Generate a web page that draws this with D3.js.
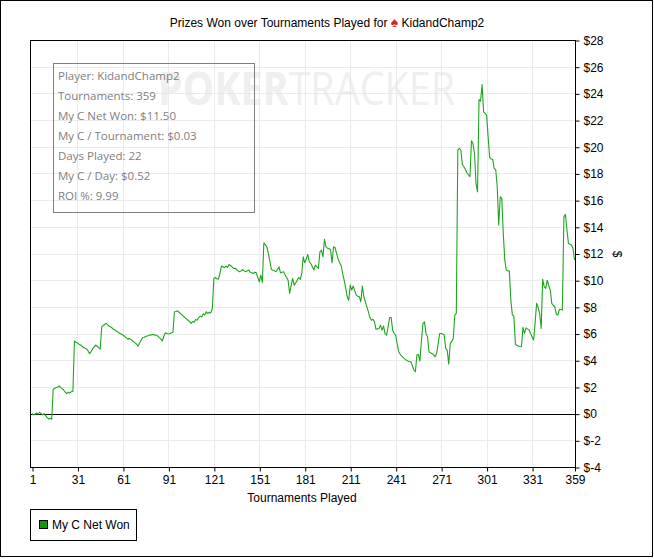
<!DOCTYPE html>
<html>
<head>
<meta charset="utf-8">
<script src="https://cdn.jsdelivr.net/npm/d3@7"></script>
<style>
  body { margin: 0; background: #fff; }
  svg text { font-family: "Liberation Sans", Arial, sans-serif; }
</style>
</head>
<body>
<div class="chart"></div>
<script>
// tournament index runs 1..359, one value per tournament (cumulative $ won)
const netWon = [
  0, -0.1, -0.05, 0.05, -0.05, 0.1, 0, -0.1, 0, -0.15,
  -0.3, -0.4, -0.35, -0.43, 1.82, 1.9, 1.95, 2.0, 2.07, 1.95,
  1.85, 1.75, 1.6, 1.5, 1.6, 1.55, 1.65, 1.67, 5.44, 5.35,
  5.3, 5.2, 5.15, 5.05, 4.95, 4.9, 4.85, 4.7, 4.5, 4.65,
  4.85, 5.0, 5.14, 5.05, 4.95, 4.84, 6.5, 6.6, 6.7, 6.76,
  6.65, 6.55, 6.5, 6.4, 6.3, 6.25, 6.15, 6.1, 6.0, 5.96,
  5.9, 5.8, 5.7, 5.6, 5.62, 5.58, 5.5, 5.4, 5.3, 5.2,
  5.06, 5.3, 5.5, 5.7, 5.72, 5.78, 5.82, 5.85, 5.9, 5.9,
  5.94, 5.9, 5.85, 5.82, 5.7, 5.6, 5.44, 5.8, 6.06, 6.0,
  5.96, 6.0, 6.05, 6.1, 7.63, 7.66, 7.7, 7.6, 7.5, 7.4,
  7.3, 7.2, 7.1, 7.0, 6.9, 6.76, 6.9, 6.85, 7.06, 7.0,
  7.2, 7.31, 7.25, 7.48, 7.4, 7.63, 7.5, 7.6, 7.55, 7.88,
  10.13, 10.2, 10.1, 10.08, 10.5, 11.06, 11.0, 10.94, 11.05, 10.95,
  11.18, 11.1, 11.0, 10.88, 10.9, 10.8, 10.7, 10.63, 10.7, 10.8,
  10.7, 10.63, 10.7, 10.75, 10.6, 10.55, 10.5, 10.6, 10.55, 10.2,
  9.88, 10.38, 9.83, 12.8, 12.65, 12.5, 12.0, 11.4, 10.8, 10.75,
  10.7, 10.63, 10.8, 11.0, 10.55, 10.6, 10.63, 10.4, 10.2, 10.0,
  9.01, 9.6, 10.13, 9.63, 9.8, 10.0, 10.2, 10.06, 10.5, 11.75,
  11.3, 11.6, 11.93, 11.38, 11.25, 11.0, 10.76, 11.13, 11.0, 10.88,
  12.13, 12.25, 11.75, 13.06, 12.5, 12.4, 12.35, 12.3, 11.3, 12.5,
  12.45, 12.0, 11.6, 11.3, 11.1, 10.5, 10.0, 9.4, 8.76, 8.5,
  9.63, 9.26, 9.56, 9.2, 8.88, 8.8, 8.76, 8.38, 9.56, 8.76,
  8.38, 8.0, 7.63, 7.2, 7.0, 7.07, 6.88, 6.32, 6.35, 6.38,
  6.63, 6.26, 6.56, 6.0, 5.88, 6.5, 7.2, 7.2, 6.26, 6.0,
  5.88, 5.2, 4.64, 4.45, 4.3, 4.2, 4.1, 4.01, 3.95, 3.9,
  3.89, 3.6, 3.27, 3.14, 4.39, 4.44, 3.94, 5.5, 6.76, 6.88,
  6.01, 5.76, 4.64, 4.55, 4.51, 4.4, 4.26, 4.51, 5.2, 6.0,
  6.0, 5.96, 5.9, 4.89, 4.76, 3.71, 5.26, 5.4, 5.63, 7.38,
  7.5, 19.75, 19.87, 19.75, 18.67, 18.5, 18.3, 18.05, 17.9, 17.75,
  20.44, 20.25, 19.5, 17.25, 16.62, 23.54, 23.42, 24.67, 22.62, 22.5,
  22.37, 20.75, 19.2, 19.1, 19.05, 18.37, 18.3, 17.0, 14.13, 16.25,
  16.13, 13.5, 11.5, 10.76, 10.7, 10.68, 8.5, 7.38, 7.3, 5.21,
  5.1, 5.06, 5.03, 5.01, 6.46, 6.01, 6.43, 6.35, 6.26, 6.0,
  5.76, 5.51, 6.8, 8.26, 7.96, 7.51, 6.39, 10.06, 9.51, 9.38,
  10.0, 9.6, 9.26, 8.26, 8.1, 8.01, 7.46, 7.38, 7.81, 7.8,
  7.76, 14.75, 14.93, 13.8, 12.76, 12.7, 12.64, 12.38, 11.5
];
const xTicks = [1, 31, 61, 91, 121, 151, 181, 211, 241, 271, 301, 331, 359];
const yTicks = [-4, -2, 0, 2, 4, 6, 8, 10, 12, 14, 16, 18, 20, 22, 24, 26, 28];
const infoLines = [
  "Player: KidandChamp2",
  "Tournaments: 359",
  "My C Net Won: $11.50",
  "My C / Tournament: $0.03",
  "Days Played: 22",
  "My C / Day: $0.52",
  "ROI %: 9.99"
];
const playerName = "KidandChamp2";
const seriesName = "My C Net Won";

const W = 654, H = 559;
const plot = { left: 30, right: 575, top: 40, bottom: 467 };

let svg = d3.select(".chart").append("svg")
  .attr("width", W)
  .attr("height", H);

// outer frame
svg.append("rect")
  .attr("x", 0.5).attr("y", 0.5)
  .attr("width", 652).attr("height", 556)
  .attr("fill", "#fff")
  .attr("stroke", "#000");

let x = d3.scaleLinear().domain([1, 359]).range([32, 574.5]);
let y = d3.scaleLinear().domain([-4, 28]).range([plot.bottom, plot.top]);

// grid
svg.append("g")
  .selectAll("line")
  .data(xTicks.slice(1, -1))
  .join("line")
  .attr("x1", d => Math.round(x(d)) + 0.5)
  .attr("x2", d => Math.round(x(d)) + 0.5)
  .attr("y1", plot.top)
  .attr("y2", plot.bottom)
  .attr("stroke", "#ebebeb");

svg.append("g")
  .selectAll("line")
  .data(yTicks.filter(d => d != -4 && d != 28 && d != 0))
  .join("line")
  .attr("x1", plot.left)
  .attr("x2", plot.right)
  .attr("y1", d => Math.round(y(d)) + 0.5)
  .attr("y2", d => Math.round(y(d)) + 0.5)
  .attr("stroke", "#ebebeb");

// watermark, faint, sits behind the info box like the original
let wm = svg.append("text")
  .attr("x", 158).attr("y", 105)
  .attr("textLength", 297).attr("lengthAdjust", "spacingAndGlyphs")
  .attr("fill", "#e6e6e6")
  .attr("opacity", 0.6)
  .style("font-family", "'Open Sans', sans-serif")
  .style("font-size", "46px");
wm.append("tspan").attr("font-weight", "bold").text("POKER");
wm.append("tspan").attr("font-weight", "normal").text("TRACKER");

// zero line
svg.append("line")
  .attr("x1", plot.left).attr("x2", plot.right)
  .attr("y1", Math.round(y(0)) + 0.5).attr("y2", Math.round(y(0)) + 0.5)
  .attr("stroke", "#000");

// series
let line = d3.line()
  .x((d, i) => x(i + 1))
  .y(d => y(d));

svg.append("path")
  .datum(netWon)
  .attr("fill", "none")
  .attr("stroke", "#1ea51e")
  .attr("stroke-width", 1.1)
  .attr("stroke-linejoin", "round")
  .attr("d", line);

// plot frame
svg.append("rect")
  .attr("x", plot.left + 0.5).attr("y", plot.top + 0.5)
  .attr("width", plot.right - plot.left).attr("height", plot.bottom - plot.top)
  .attr("fill", "none")
  .attr("stroke", "#000");

// axes
let yAxis = svg.append("g")
  .attr("transform", "translate(" + (plot.right + 0.5) + ",0.5)")
  .call(d3.axisRight(y).tickValues(yTicks).tickFormat(d => "$" + d).tickSize(4).tickPadding(4));
yAxis.select(".domain").remove();
yAxis.selectAll("text").attr("font-size", 12).attr("fill", "#000").style("font-family", "'Liberation Sans', Arial");

let xAxis = svg.append("g")
  .attr("transform", "translate(0.5," + (plot.bottom + 0.5) + ")")
  .call(d3.axisBottom(x).tickValues(xTicks).tickSize(4).tickPadding(4));
xAxis.select(".domain").remove();
xAxis.selectAll("text").attr("font-size", 12).attr("fill", "#000").style("font-family", "'Liberation Sans', Arial");

svg.append("text")
  .attr("x", 302).attr("y", 502)
  .attr("text-anchor", "middle")
  .attr("font-size", 12)
  .text("Tournaments Played");

svg.append("text")
  .attr("transform", "translate(613,254) rotate(90)")
  .attr("text-anchor", "middle")
  .attr("font-size", 12)
  .text("$");

// title
let title = svg.append("text")
  .attr("x", 327).attr("y", 27)
  .attr("text-anchor", "middle")
  .attr("font-size", 12);
title.append("tspan").text("Prizes Won over Tournaments Played for ");
title.append("tspan").attr("fill", "#d8231f").attr("font-size", 14).text("\u2660");
title.append("tspan").text(" " + playerName);

// info box
let info = svg.append("g");
info.append("rect")
  .attr("x", 53.5).attr("y", 63.5)
  .attr("width", 201).attr("height", 149)
  .attr("fill", "none")
  .attr("stroke", "#808080");
info.selectAll("text")
  .data(infoLines)
  .join("text")
  .attr("x", 58)
  .attr("y", (d, i) => 80 + i * 20)
  .attr("fill", "#808080")
  .style("font-family", "'Open Sans', sans-serif")
  .style("font-size", "11.5px")
  .text(d => d);

// legend
let legend = svg.append("g");
legend.append("rect")
  .attr("x", 30.5).attr("y", 509.5)
  .attr("width", 106).attr("height", 31)
  .attr("fill", "#fff")
  .attr("stroke", "#000");
legend.append("rect")
  .attr("x", 39.5).attr("y", 520.5)
  .attr("width", 8).attr("height", 8)
  .attr("fill", "#0a9a0a")
  .attr("stroke", "#000");
legend.append("text")
  .attr("x", 52).attr("y", 529)
  .attr("font-size", 12)
  .text(seriesName);
</script>
</body>
</html>
